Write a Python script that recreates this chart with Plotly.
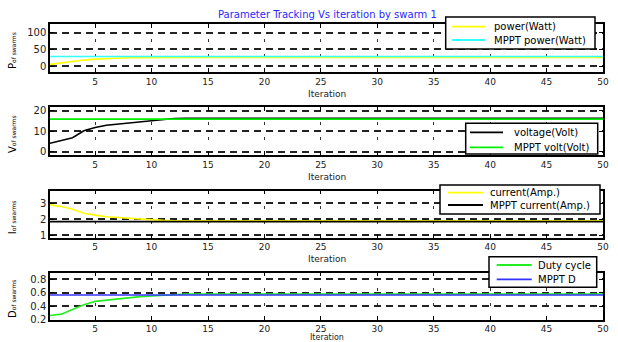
import plotly.graph_objects as go

# ---------------- data ----------------
iteration = list(range(1, 51))

power = [5, 10, 15, 18, 21, 23, 24, 25, 25.5, 26,
         26, 26, 26, 26, 26, 26, 26, 26, 26, 26,
         26, 26, 26, 26, 26, 26, 26, 26, 26, 26,
         26, 26, 26, 26, 26, 26, 26, 26, 26, 26,
         26, 26, 26, 26, 26, 26, 26, 26, 26, 26]
mppt_power = [29, 29, 29, 29, 29, 29, 29, 29, 29, 29,
              29, 29, 29, 29, 29, 29, 29, 29, 29, 29,
              29, 29, 29, 29, 29, 29, 29, 29, 29, 29,
              29, 29, 29, 29, 29, 29, 29, 29, 29, 29,
              29, 29, 29, 29, 29, 29, 29, 29, 29, 29]

voltage = [4.1, 5.5, 6.8, 10.2, 11.8, 12.9, 13.5, 14.0, 14.5, 15.0,
           15.8, 16.2, 16.3, 16.3, 16.3, 16.3, 16.3, 16.3, 16.3, 16.3,
           16.3, 16.3, 16.3, 16.3, 16.3, 16.3, 16.3, 16.3, 16.3, 16.3,
           16.3, 16.3, 16.3, 16.3, 16.3, 16.3, 16.3, 16.3, 16.3, 16.3,
           16.3, 16.3, 16.3, 16.3, 16.3, 16.3, 16.3, 16.3, 16.3, 16.3]
mppt_volt = [15.9, 15.9, 15.9, 15.9, 15.9, 15.9, 15.9, 15.9, 15.9, 15.9,
             15.9, 15.9, 15.9, 15.9, 15.9, 15.9, 15.9, 15.9, 15.9, 15.9,
             15.9, 15.9, 15.9, 15.9, 15.9, 15.9, 15.9, 15.9, 15.9, 15.9,
             15.9, 15.9, 15.9, 15.9, 15.9, 15.9, 15.9, 15.9, 15.9, 15.9,
             15.9, 15.9, 15.9, 15.9, 15.9, 15.9, 15.9, 15.9, 15.9, 15.9]

current = [2.9, 2.8, 2.62, 2.37, 2.25, 2.15, 2.1, 2.05, 2.0, 1.95,
           1.92, 1.9, 1.9, 1.9, 1.9, 1.9, 1.9, 1.9, 1.9, 1.9,
           1.9, 1.9, 1.9, 1.9, 1.9, 1.9, 1.9, 1.9, 1.9, 1.9,
           1.9, 1.9, 1.9, 1.9, 1.9, 1.9, 1.9, 1.9, 1.9, 1.9,
           1.9, 1.9, 1.9, 1.9, 1.9, 1.9, 1.9, 1.9, 1.9, 1.9]
mppt_current = [1.84, 1.84, 1.84, 1.84, 1.84, 1.84, 1.84, 1.84, 1.84, 1.84,
                1.84, 1.84, 1.84, 1.84, 1.84, 1.84, 1.84, 1.84, 1.84, 1.84,
                1.84, 1.84, 1.84, 1.84, 1.84, 1.84, 1.84, 1.84, 1.84, 1.84,
                1.84, 1.84, 1.84, 1.84, 1.84, 1.84, 1.84, 1.84, 1.84, 1.84,
                1.84, 1.84, 1.84, 1.84, 1.84, 1.84, 1.84, 1.84, 1.84, 1.84]

duty = [0.26, 0.28, 0.35, 0.42, 0.47, 0.49, 0.51, 0.53, 0.54, 0.55,
        0.56, 0.575, 0.58, 0.58, 0.58, 0.58, 0.58, 0.58, 0.58, 0.58,
        0.58, 0.58, 0.58, 0.58, 0.58, 0.58, 0.58, 0.58, 0.58, 0.58,
        0.58, 0.58, 0.58, 0.58, 0.58, 0.58, 0.58, 0.58, 0.58, 0.58,
        0.58, 0.58, 0.58, 0.58, 0.58, 0.58, 0.58, 0.58, 0.58, 0.58]
mppt_d = [0.565, 0.565, 0.565, 0.565, 0.565, 0.565, 0.565, 0.565, 0.565, 0.565,
          0.565, 0.565, 0.565, 0.565, 0.565, 0.565, 0.565, 0.565, 0.565, 0.565,
          0.565, 0.565, 0.565, 0.565, 0.565, 0.565, 0.565, 0.565, 0.565, 0.565,
          0.565, 0.565, 0.565, 0.565, 0.565, 0.565, 0.565, 0.565, 0.565, 0.565,
          0.565, 0.565, 0.565, 0.565, 0.565, 0.565, 0.565, 0.565, 0.565, 0.565]

x_ticks = [5, 10, 15, 20, 25, 30, 35, 40, 45, 50]
p_ticks = [0, 50, 100]
v_ticks = [0, 10, 20]
i_ticks = [1, 2, 3]
d_ticks = [0.2, 0.4, 0.6, 0.8]

title_text = "Parameter Tracking Vs iteration by swarm 1"
x_label = "Iteration"
y_labels = ["P", "V", "I", "D"]
legend_names = [["power(Watt)", "MPPT power(Watt)"],
                ["voltage(Volt)", "MPPT volt(Volt)"],
                ["current(Amp.)", "MPPT current(Amp.)"],
                ["Duty cycle", "MPPT D"]]

# ---------------- layout helpers ----------------
W, H = 618, 342
L, R = 50, 15
PW = W - L - R
FONT = "DejaVu Sans"


def py(p):
    return 1 - p / H


def px(p):
    return (p - L) / PW


panels_px = [(24, 72), (107, 155), (190.7, 237.7), (272.5, 319.5)]
ranges = [[-18, 127], [-1.6, 21.8], [0.83, 3.79], [0.2, 0.9]]
yticks = [p_ticks, v_ticks, i_ticks, d_ticks]
series = [(power, mppt_power), (voltage, mppt_volt), (current, mppt_current), (duty, mppt_d)]
colors = [("#ffff00", "#33ffff"), ("#000000", "#00ee00"),
          ("#ffff00", "#000000"), ("#22ee22", "#3333ff")]

# legend geometry in pixels: box (x0, x1, y0, y1), line (x0, x1), rows y, text x
legend_geo = [
    ((445.7, 595, 17, 49), (452, 485), (26.7, 40), 492),
    ((465.7, 597.7, 123.3, 154), (470, 503), (132.3, 147.3), 512),
    ((440, 600, 185, 214), (448, 483), (192.7, 205), 488),
    ((489, 596.7, 256.7, 287.3), (496.7, 531.7), (265, 279.3), 536),
]

fig = go.Figure()

for k, (a, b) in enumerate(series):
    sfx = "" if k == 0 else str(k + 1)
    fig.add_trace(go.Scatter(x=iteration, y=a, name=legend_names[k][0], mode="lines",
                             line=dict(color=colors[k][0], width=1.6),
                             xaxis="x" + sfx, yaxis="y" + sfx, showlegend=False))
    fig.add_trace(go.Scatter(x=iteration, y=b, name=legend_names[k][1], mode="lines",
                             line=dict(color=colors[k][1], width=1.6),
                             xaxis="x" + sfx, yaxis="y" + sfx, showlegend=False))

layout = dict(
    width=W, height=H,
    margin=dict(l=L, r=R, t=0, b=0),
    paper_bgcolor="white", plot_bgcolor="white",
    font=dict(family=FONT, size=10, color="black"),
    showlegend=False,
)

annotations = [dict(text=title_text, x=px(327), y=py(14), xref="paper", yref="paper",
                    showarrow=False, font=dict(color="#2828ff", size=10, family=FONT),
                    xanchor="center", yanchor="middle")]
shapes = []

for k in range(4):
    sfx = "" if k == 0 else str(k + 1)
    top, bot = panels_px[k]
    layout["xaxis" + sfx] = dict(
        domain=[0, 1], range=[1, 50], anchor="y" + sfx,
        tickvals=x_ticks, ticks="inside", ticklen=4, tickcolor="black",
        showline=True, linecolor="black", linewidth=1.5, mirror="ticks",
        showgrid=True, gridcolor="#333333", gridwidth=1, griddash="3px,12px",
        zeroline=False, tickfont=dict(size=9, color="#222"), automargin=False,
        ticklabeloverflow="allow",
    )
    layout["yaxis" + sfx] = dict(
        domain=[py(bot), py(top)], range=ranges[k], anchor="x" + sfx,
        tickvals=yticks[k], ticks="inside", ticklen=4, tickcolor="black",
        showline=True, linecolor="black", linewidth=1.5, mirror="ticks",
        showgrid=True, gridcolor="#222222", gridwidth=1.5, griddash="7px,5px",
        zeroline=False, tickfont=dict(size=10, color="#222"), automargin=False,
        ticklabeloverflow="allow",
    )
    # y label
    annotations.append(dict(
        text=y_labels[k] + "<span style='font-size:6px'>of swarms</span>",
        x=px(12), y=py((top + bot) / 2 + 3), xref="paper", yref="paper",
        textangle=-90, showarrow=False, xanchor="center", yanchor="middle",
        font=dict(size=10, family=FONT, color="black")))
    # x label
    last = k == 3
    ylab = 337 if last else bot + 21.5
    annotations.append(dict(
        text=x_label, x=px(327), y=py(ylab), xref="paper", yref="paper",
        showarrow=False, xanchor="center", yanchor="middle",
        font=dict(size=8 if last else 9, family=FONT, color="#222")))
    # custom legend
    (bx0, bx1, by0, by1), (lx0, lx1), rows, tx = legend_geo[k]
    shapes.append(dict(type="rect", xref="paper", yref="paper",
                       x0=px(bx0), x1=px(bx1), y0=py(by1), y1=py(by0),
                       fillcolor="white", line=dict(color="black", width=1.5),
                       layer="above"))
    for j in range(2):
        shapes.append(dict(type="line", xref="paper", yref="paper",
                           x0=px(lx0), x1=px(lx1), y0=py(rows[j]), y1=py(rows[j]),
                           line=dict(color=colors[k][j], width=1.8), layer="above"))
        annotations.append(dict(
            text=legend_names[k][j], x=px(tx), y=py(rows[j]), xref="paper", yref="paper",
            showarrow=False, xanchor="left", yanchor="middle",
            font=dict(size=10, family=FONT, color="black")))

layout["annotations"] = annotations
layout["shapes"] = shapes
fig.update_layout(**layout)
fig.write_html("out.html", config={"displayModeBar": False},
               post_script="document.body.style.margin='0';document.body.style.overflow='hidden';")
